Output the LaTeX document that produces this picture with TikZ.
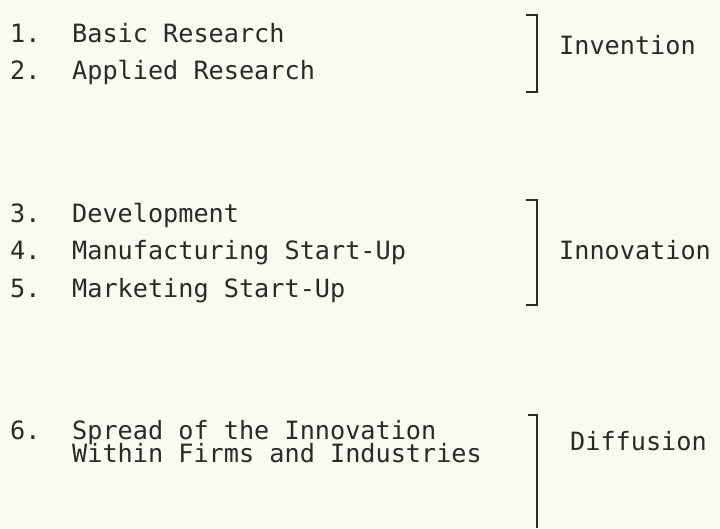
\documentclass[tikz,border=0pt]{standalone}
\usepackage{fontspec}
\newfontfamily\typefont{DejaVu Sans Mono}
\definecolor{paper}{HTML}{FAFAF0}
\definecolor{ink}{HTML}{2A2A2A}
\begin{document}
\begin{tikzpicture}[x=1pt,y=-1pt,
  entry/.style={anchor=base west,inner sep=0pt,text=ink,
    font=\typefont\fontsize{25.2}{23}\selectfont},
  stage/.style={entry},
  brace/.style={draw=ink,line width=1.4pt,line join=miter}]
  % page
  \fill[paper] (0,0) rectangle (720,528);
  \useasboundingbox (0,0) rectangle (720,528);

  % list of activities
  \node[entry] (n1) at (10,42)  {1.};
  \node[entry] (t1) at (72,42)  {Basic Research};
  \node[entry] (n2) at (10,79)  {2.};
  \node[entry] (t2) at (72,79)  {Applied Research};
  \node[entry] (n3) at (10,222) {3.};
  \node[entry] (t3) at (72,222) {Development};
  \node[entry] (n4) at (10,259) {4.};
  \node[entry] (t4) at (72,259) {Manufacturing Start-Up};
  \node[entry] (n5) at (10,297) {5.};
  \node[entry] (t5) at (72,297) {Marketing Start-Up};
  \node[entry] (n6) at (10,439) {6.};
  \node[entry] (t6) at (72,439) {Spread of the Innovation};
  \node[entry] (t6b) at (72,462) {Within Firms and Industries};

  % stage brackets
  \draw[brace] (526,15) -- (537,15) -- (537,92) -- (526,92);
  \draw[brace] (526,200) -- (537,200) -- (537,305) -- (526,305);
  \draw[brace] (528,415) -- (537,415) -- (537,528);

  % stage names
  \node[stage] (s1) at (559,54)  {Invention};
  \node[stage] (s2) at (559,259) {Innovation};
  \node[stage] (s3) at (570,450) {Diffusion};
\end{tikzpicture}
\end{document}
